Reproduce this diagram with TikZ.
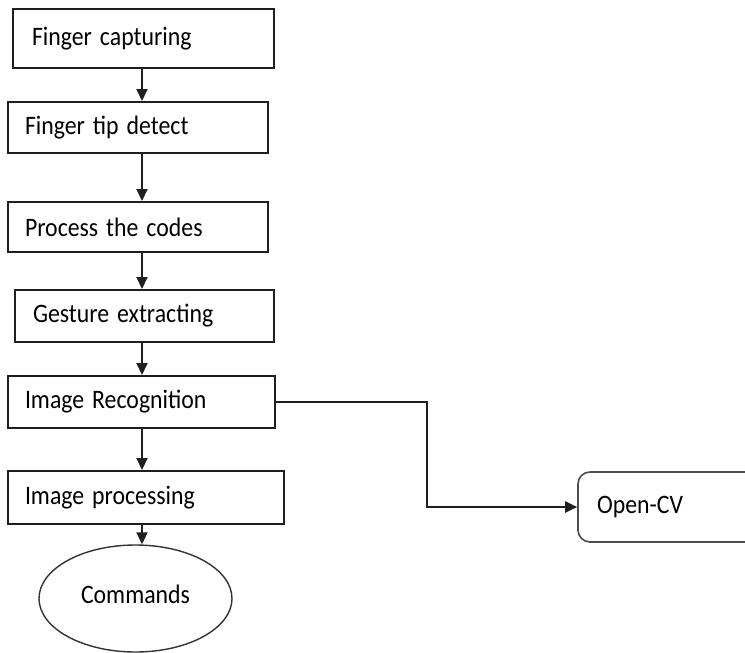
\documentclass[tikz,border=0pt]{standalone}
\usepackage{fontspec}
\usepackage{graphicx}
\setmainfont{Carlito}[WordSpace=0.65]
\usetikzlibrary{arrows.meta,shapes.geometric}
\newcommand{\tallt}[1]{\scalebox{1}[1.12]{#1}}
\tikzset{
  fbox/.style={draw=black!88, line width=2pt, rectangle, inner ysep=0pt, align=left,
    font=\fontsize{23.8}{28}\selectfont},
  conn/.style={draw=black!88, line width=2pt, -{Triangle[length=12pt,width=11pt]}},
  link/.style={draw=black!85, line width=2pt}
}
\begin{document}
\begin{tikzpicture}[x=1pt,y=-1pt]
\useasboundingbox[fill=white] (0,0) rectangle (745,653);
\coordinate (ax) at (142,0);
\coordinate (bx) at (427,0);
\node[fbox, minimum width=261pt, minimum height=59pt, inner xsep=19pt, text width=223pt] (b1) at (143.5,38.5) {\tallt{Finger capturing}};
\node[fbox, minimum width=260pt, minimum height=51pt, inner xsep=17pt, text width=226pt] (b2) at (138,127.5) {\tallt{Finger tip detect}};
\node[fbox, minimum width=260pt, minimum height=50pt, inner xsep=17pt, text width=226pt] (b3) at (138,227) {\tallt{Process the codes}};
\node[fbox, minimum width=259pt, minimum height=52pt, inner xsep=18pt, text width=223pt] (b4) at (144.5,316) {\tallt{Gesture extracting}};
\node[fbox, minimum width=267pt, minimum height=52pt, inner xsep=17pt, text width=233pt] (b5) at (141.5,402) {\tallt{Image Recognition}};
\node[fbox, minimum width=276pt, minimum height=53pt, inner xsep=17pt, text width=242pt] (b6) at (146,497.5) {\tallt{Image processing}};
\node[draw=black!80, line width=1.4pt, ellipse, minimum width=193pt, minimum height=107pt, inner sep=0pt,
  font=\fontsize{23.8}{28}\selectfont] (cmd) at (135.5,598.5) {\raisebox{8pt}{\tallt{Commands}}};
\node[draw=black!70, line width=1.6pt, rectangle, rounded corners=12pt, minimum width=190pt, minimum height=70pt,
  inner ysep=0pt, inner xsep=19pt, text width=152pt, align=left, font=\fontsize{23.8}{28}\selectfont] (cv) at (673,507) {\raisebox{5pt}{\tallt{Open-CV}}};
\draw[conn] (b1.south -| ax) -- (b2.north -| ax);
\draw[conn] (b2.south -| ax) -- (b3.north -| ax);
\draw[conn] (b3.south -| ax) -- (b4.north -| ax);
\draw[conn] (b4.south -| ax) -- (b5.north -| ax);
\draw[conn] (b5.south -| ax) -- (b6.north -| ax);
\draw[conn] (b6.south -| ax) -- (cmd.north -| ax);
\draw[conn] (b5.east) -- (b5.east -| bx) |- (cv.west);
\end{tikzpicture}
\end{document}
